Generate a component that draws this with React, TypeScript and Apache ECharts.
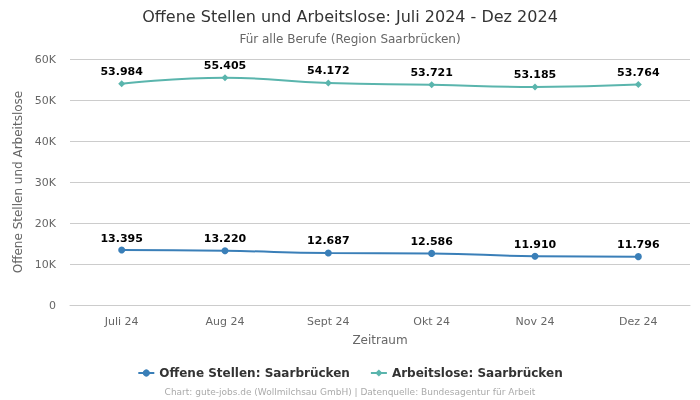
import React, { useEffect, useRef } from "react";
import * as echarts from "echarts";

const categories = ["Juli 24", "Aug 24", "Sept 24", "Okt 24", "Nov 24", "Dez 24"];
const offeneStellen = [13395, 13220, 12687, 12586, 11910, 11796];
const arbeitslose = [53984, 55405, 54172, 53721, 53185, 53764];
const yTicks = [0, 10000, 20000, 30000, 40000, 50000, 60000];

const fmt = (v: number) => String(v).replace(/\B(?=(\d{3})+(?!\d))/g, ".");

export default function App() {
  const ref = useRef<HTMLDivElement>(null);
  useEffect(() => {
    if (!ref.current) return;
    const chart = echarts.init(ref.current, undefined, { renderer: "svg" });
    chart.setOption({
      animation: false,
      textStyle: { fontFamily: "DejaVu Sans" },
      title: {
        text: "Offene Stellen und Arbeitslose: Juli 2024 - Dez 2024",
        subtext: "Für alle Berufe (Region Saarbrücken)",
        left: "center",
        top: 3,
        itemGap: 9,
        textStyle: { fontSize: 16, fontWeight: "normal", color: "#333" },
        subtextStyle: { fontSize: 12, color: "#666" },
      },
      legend: {
        bottom: 16,
        left: "center",
        itemGap: 20,
        itemWidth: 16,
        itemHeight: 9,
        textStyle: { fontSize: 12, fontWeight: "bold", color: "#333" },
        data: ["Offene Stellen: Saarbrücken", "Arbeitslose: Saarbrücken"],
      },
      graphic: [
        {
          type: "text",
          left: "center",
          top: 387,
          style: {
            text: "Chart: gute-jobs.de (Wollmilchsau GmbH) | Datenquelle: Bundesagentur für Arbeit",
            fill: "#aaa",
            fontSize: 9,
            fontFamily: "DejaVu Sans",
          },
        },
      ],
      grid: { left: 70, right: 10, top: 59, bottom: 95 },
      xAxis: {
        type: "category",
        data: categories,
        boundaryGap: true,
        name: "Zeitraum",
        nameLocation: "middle",
        nameGap: 29,
        nameTextStyle: { fontSize: 12, color: "#666" },
        axisLine: { lineStyle: { color: "#ccc" } },
        axisTick: { show: false },
        axisLabel: { color: "#666", fontSize: 11, margin: 11 },
      },
      yAxis: {
        type: "value",
        min: yTicks[0],
        max: yTicks[yTicks.length - 1],
        interval: 10000,
        name: "Offene Stellen und Arbeitslose",
        nameLocation: "middle",
        nameGap: 42,
        nameTextStyle: { fontSize: 12, color: "#666" },
        axisLabel: {
          color: "#666",
          fontSize: 11,
          margin: 14,
          formatter: (v: number) => (v === 0 ? "0" : v / 1000 + "K"),
        },
        splitLine: { lineStyle: { color: "#ccc" } },
      },
      series: [
        {
          name: "Offene Stellen: Saarbrücken",
          type: "line",
          data: offeneStellen,
          smooth: true,
          symbol: "circle",
          symbolSize: 7,
          itemStyle: { color: "#3a7fb8" },
          lineStyle: { width: 2 },
          label: {
            show: true,
            position: "top",
            distance: 3,
            formatter: (p: any) => fmt(p.value),
            fontSize: 11,
            fontWeight: "bold",
            color: "#000",
          },
        },
        {
          name: "Arbeitslose: Saarbrücken",
          type: "line",
          data: arbeitslose,
          smooth: true,
          symbol: "diamond",
          symbolSize: 7,
          itemStyle: { color: "#5ab5ad" },
          lineStyle: { width: 2 },
          label: {
            show: true,
            position: "top",
            distance: 3,
            formatter: (p: any) => fmt(p.value),
            fontSize: 11,
            fontWeight: "bold",
            color: "#000",
          },
        },
      ],
    });
    return () => chart.dispose();
  }, []);
  return (
    <div
      ref={ref}
      style={{ position: "fixed", left: 0, top: 0, width: 700, height: 400 }}
    />
  );
}
